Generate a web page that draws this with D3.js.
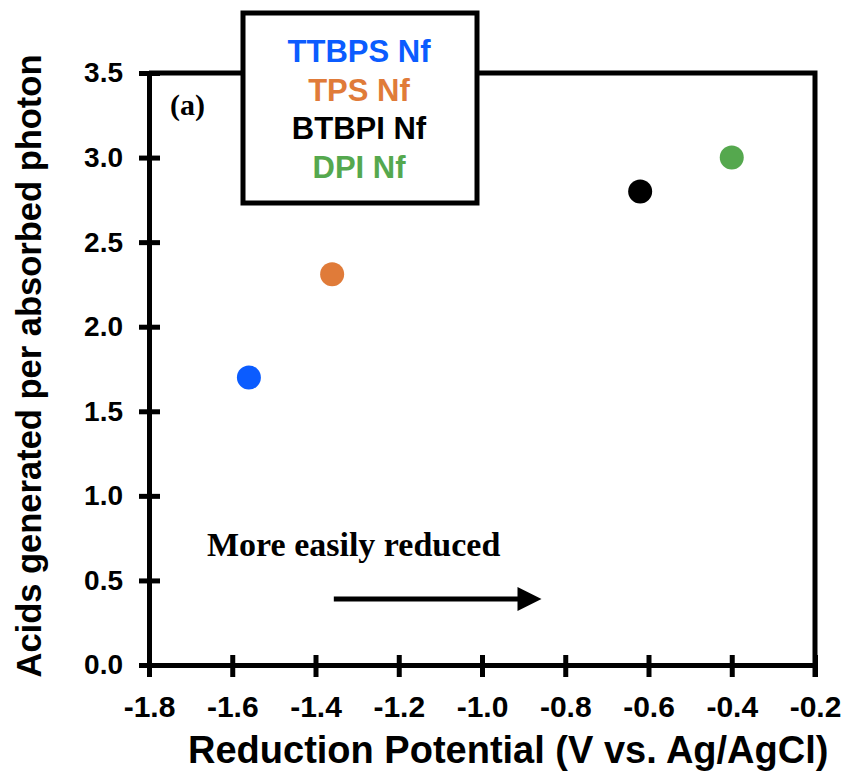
<!DOCTYPE html>
<html>
<head>
<meta charset="utf-8">
<script src="https://cdn.jsdelivr.net/npm/d3@7"></script>
<style>
  body { margin: 0; background: #fff; }
  svg { display: block; }
</style>
</head>
<body>
<svg id="chart" width="843" height="773"></svg>
<script>
// data
var compounds = ['TTBPS Nf', 'TPS Nf', 'BTBPI Nf', 'DPI Nf'];
var potentials = [-1.56, -1.36, -0.62, -0.40];
var acidYield = [1.70, 2.31, 2.80, 3.00];
var colors = ['#0b5cff', '#e07b39', '#000000', '#55a84e'];
var xTicks = [-1.8, -1.6, -1.4, -1.2, -1.0, -0.8, -0.6, -0.4, -0.2];
var yTicks = [0, 0.5, 1.0, 1.5, 2.0, 2.5, 3.0, 3.5];
// annotation arrow, in data units
var arrowX = [-1.356, -0.857];
var arrowY = 0.39;

var svg = d3.select('#chart');
var pl = 149, pr = 815, pt = 73, pb = 665;

var x = d3.scaleLinear().domain([-1.8, -0.2]).range([pl, pr]);
var y = d3.scaleLinear().domain([0, 3.5]).range([pb, pt]);

var lw = 5;
var sans = 'Arial, "Liberation Sans", sans-serif';
var serif = '"Times New Roman", "Liberation Serif", serif';

// frame (top + right)
svg.append('path')
  .attr('d', 'M' + pl + ',' + pt + 'H' + pr + 'V' + (pb + 12))
  .style('fill', 'none').style('stroke', '#000').style('stroke-width', lw);

// bottom axis
var xAxis = svg.append('g')
  .attr('transform', 'translate(0,' + pb + ')')
  .call(d3.axisBottom(x).tickValues(xTicks).tickSize(12).tickSizeOuter(0).tickPadding(18));
xAxis.select('.domain').style('stroke-width', lw);
xAxis.selectAll('.tick line').attr('y1', -10).style('stroke-width', lw);
xAxis.selectAll('.tick text')
  .style('font-family', sans)
  .style('font-weight', 'bold').style('font-size', '30px')
  .attr('dy', '0.72em')
  .text(function(d) { return d3.format('.1f')(d).replace('\u2212', '-'); });

// left axis
var yAxis = svg.append('g')
  .attr('transform', 'translate(' + pl + ',0)')
  .call(d3.axisLeft(y).tickValues(yTicks).tickSize(10).tickSizeOuter(0).tickPadding(16)
    .tickFormat(d3.format('.1f')));
yAxis.select('.domain').style('stroke-width', lw);
yAxis.selectAll('.tick line').attr('x1', 11).style('stroke-width', lw);
yAxis.selectAll('.tick text')
  .style('font-family', sans)
  .style('font-weight', 'bold').style('font-size', '28px');

// axis titles
svg.append('text')
  .attr('x', 188).attr('y', 763)
  .style('font-family', sans)
  .style('font-weight', 'bold').style('font-size', '38px')
  .text('Reduction Potential (V vs. Ag/AgCl)');

svg.append('text')
  .attr('transform', 'translate(41,' + 366 + ') rotate(-90)')
  .attr('text-anchor', 'middle')
  .style('font-family', sans)
  .style('font-weight', 'bold').style('font-size', '34.5px')
  .text('Acids generated per absorbed photon');

// points
svg.selectAll('circle.pt')
  .data(compounds)
  .enter().append('circle')
  .classed('pt', true)
  .attr('cx', function(d, i) { return x(potentials[i]); })
  .attr('cy', function(d, i) { return y(acidYield[i]); })
  .attr('r', 12)
  .style('fill', function(d, i) { return colors[i]; });

// panel label
svg.append('text')
  .attr('x', 170).attr('y', 115)
  .style('font-family', serif)
  .style('font-weight', 'bold').style('font-size', '30px')
  .text('(a)');

// annotation
svg.append('text')
  .attr('x', 207).attr('y', 556)
  .style('font-family', serif)
  .style('font-weight', 'bold').style('font-size', '34px')
  .text('More easily reduced');

var ax0 = x(arrowX[0]), ax1 = x(arrowX[1]), ay = y(arrowY);
svg.append('line')
  .attr('x1', ax0).attr('x2', ax1 - 20).attr('y1', ay).attr('y2', ay)
  .style('stroke', '#000').style('stroke-width', 5);
svg.append('path')
  .attr('d', 'M' + ax1 + ',' + ay + 'L' + (ax1 - 24) + ',' + (ay - 12) + 'L' + (ax1 - 24) + ',' + (ay + 12) + 'Z')
  .style('fill', '#000');

// legend box
var legend = svg.append('g');
legend.append('rect')
  .attr('x', 243).attr('y', 13).attr('width', 234).attr('height', 190)
  .style('fill', '#fff').style('stroke', '#000').style('stroke-width', lw);
legend.selectAll('text')
  .data(compounds)
  .enter().append('text')
  .attr('x', 359)
  .attr('y', function(d, i) { return 62 + i * 38.7; })
  .attr('text-anchor', 'middle')
  .style('font-family', sans)
  .style('font-weight', 'bold').style('font-size', '31px')
  .style('fill', function(d, i) { return colors[i]; })
  .text(function(d) { return d; });
</script>
</body>
</html>
